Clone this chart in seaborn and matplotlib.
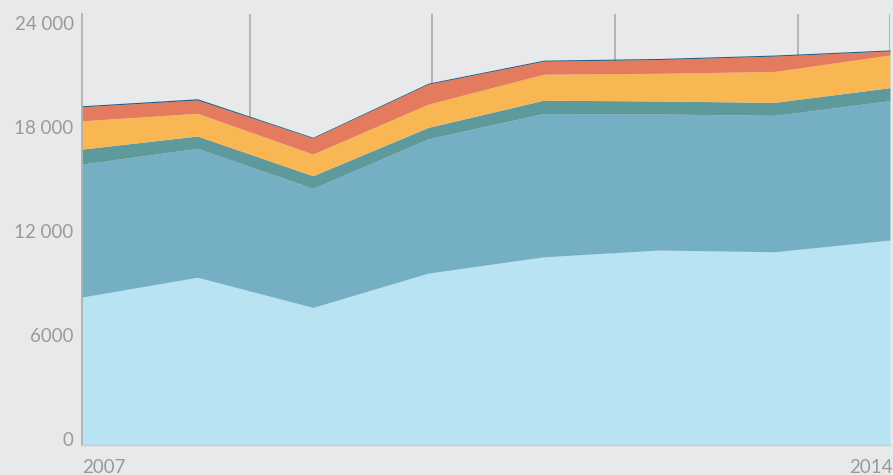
import matplotlib
matplotlib.use("Agg")
import matplotlib.pyplot as plt
import matplotlib.transforms as mtransforms
from matplotlib.ticker import FuncFormatter
import seaborn as sns
import numpy as np

years = [2007, 2008, 2009, 2010, 2011, 2012, 2013, 2014]
series_light = [8540, 9680, 7940, 9920, 10860, 11250, 11150, 11830]
series_mid = [7670, 7440, 6870, 7750, 8270, 7850, 7870, 8040]
series_teal = [865, 710, 727, 658, 767, 750, 750, 750]
series_yellow = [1633, 1310, 1252, 1344, 1500, 1598, 1788, 1886]
series_coral = [808, 767, 923, 1154, 750, 796, 883, 231]
series_dark = [60, 70, 45, 55, 60, 60, 60, 60]
colors = ["#b8e3f2", "#75afc4", "#5e999c", "#f9b753", "#e57b5e", "#1f5b7e"]
grid_x = [2008.455, 2010.032, 2011.618, 2013.203, 2014.0]
yticks = [0, 6000, 12000, 18000, 24000]

sns.set_theme(style="white")
plt.rcParams["font.family"] = ["Lato", "DejaVu Sans"]

bg = "#e8e9eb"
fig = plt.figure(figsize=(8.93, 4.75), dpi=100, facecolor=bg)
ax = fig.add_axes([82 / 893, 1 - 445 / 475, (890 - 82) / 893, (445 - 14) / 475])
ax.set_facecolor(bg)

for gx in grid_x:
    ax.axvline(gx, color="#a9abad", lw=1.2, zorder=0)

ax.stackplot(years, series_light, series_mid, series_teal, series_yellow,
             series_coral, series_dark, colors=colors, zorder=2, linewidth=0)

ax.set_xlim(2007, 2014)
ax.set_ylim(0, 24870)

for s in ["top", "right"]:
    ax.spines[s].set_visible(False)
ax.spines["left"].set_color("#a9abad")
ax.spines["left"].set_linewidth(1.2)
ax.spines["bottom"].set_color("#c9cbcd")
ax.spines["bottom"].set_linewidth(1.0)

ax.set_yticks(yticks)
ax.yaxis.set_major_formatter(FuncFormatter(
    lambda v, p: f"{int(v):,}".replace(",", " ") if v >= 10000 else f"{int(v)}"))
ax.tick_params(axis="y", length=0, pad=6, labelsize=13.5, labelcolor="#9a9a9a")
offset = mtransforms.ScaledTranslation(0, 0.065, fig.dpi_scale_trans)
for lab in ax.get_yticklabels():
    lab.set_transform(lab.get_transform() + offset)

ax.set_xticks([2007, 2014])
ax.set_xticklabels(["2007", "2014"])
ax.tick_params(axis="x", length=0, pad=10, labelsize=13.5, labelcolor="#9a9a9a")
xl = ax.get_xticklabels()
xl[0].set_ha("left")
xl[1].set_ha("right")
off2 = mtransforms.ScaledTranslation(0.03, 0, fig.dpi_scale_trans)
xl[1].set_transform(xl[1].get_transform() + off2)

ax.set_xlabel("")
ax.set_ylabel("")
fig.savefig("out.png", dpi=100, facecolor=bg)
